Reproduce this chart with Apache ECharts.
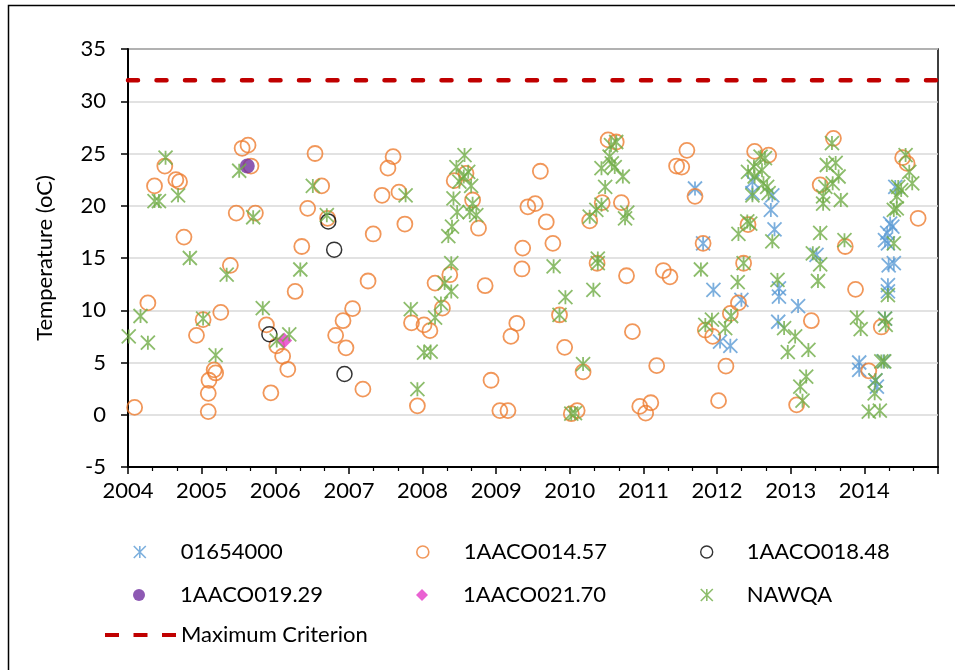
<!DOCTYPE html>
<html><head><meta charset="utf-8">
<script src="https://cdn.jsdelivr.net/npm/echarts@6/dist/echarts.min.js"></script>
<style>html,body{margin:0;padding:0;background:#fff}#c{width:955px;height:670px}</style>
</head><body><div id="c"></div><script>
// ---- data (decimal year, temperature °C) ----
const yTicks = [-5, 0, 5, 10, 15, 20, 25, 30, 35];
const xTickYears = [2004, 2005, 2006, 2007, 2008, 2009, 2010, 2011, 2012, 2013, 2014];
const criterionValue = 32;
const criterionSpan = [2004, 2015];

const s01654000_x = [2011.70,2011.81,2011.95,2012.04,2012.18,2012.33,2012.48,2012.48,2012.73,2012.75,2012.78,2012.84,2012.84,2012.83,2013.10,2013.35,2013.93,2013.93,2014.15,2014.17,2014.26,2014.28,2014.32,2014.32,2014.33,2014.40,2014.32,2014.28,2014.31,2014.35,2014.38,2014.42];
const s01654000_y = [21.65,16.4,11.95,7.0,6.6,11.0,22.3,21.2,19.6,21.0,17.75,12.1,11.3,8.9,10.4,15.3,5.0,4.3,3.3,2.7,5.1,9.2,12.4,11.8,14.3,14.5,16.4,16.7,17.4,18.3,18.0,21.8];

const s1457_x = [2004.09,2004.27,2004.36,2004.50,2004.65,2004.70,2004.76,2004.93,2005.02,2005.09,2005.09,2005.10,2005.17,2005.19,2005.26,2005.39,2005.47,2005.55,2005.63,2005.67,2005.73,2005.88,2005.94,2006.02,2006.10,2006.17,2006.27,2006.36,2006.44,2006.54,2006.63,2006.71,2006.82,2006.92,2006.96,2007.05,2007.19,2007.26,2007.33,2007.45,2007.53,2007.60,2007.68,2007.76,2007.85,2007.93,2008.02,2008.10,2008.17,2008.27,2008.37,2008.43,2008.59,2008.68,2008.76,2008.85,2008.93,2009.05,2009.16,2009.20,2009.28,2009.35,2009.36,2009.43,2009.53,2009.60,2009.68,2009.77,2009.86,2009.93,2010.02,2010.10,2010.18,2010.27,2010.37,2010.44,2010.52,2010.63,2010.70,2010.77,2010.85,2010.95,2011.03,2011.10,2011.18,2011.27,2011.36,2011.45,2011.52,2011.59,2011.70,2011.81,2011.84,2011.94,2012.02,2012.12,2012.18,2012.29,2012.36,2012.42,2012.51,2012.70,2013.08,2013.28,2013.40,2013.58,2013.74,2013.88,2014.06,2014.23,2014.52,2014.58,2014.73];
const s1457_y = [0.7,10.7,21.9,23.8,22.5,22.3,17.0,7.6,9.1,0.3,2.05,3.3,4.3,4.0,9.8,14.3,19.3,25.5,25.8,23.8,19.3,8.6,2.1,6.6,5.6,4.35,11.8,16.1,19.75,25.0,21.9,18.8,7.6,9.0,6.4,10.15,2.45,12.8,17.3,21.0,23.6,24.7,21.3,18.25,8.8,0.85,8.6,8.05,12.6,10.2,13.4,22.4,23.1,20.55,17.85,12.35,3.3,0.4,0.4,7.5,8.75,13.95,15.95,19.9,20.2,23.3,18.45,16.4,9.55,6.45,0.1,0.4,4.1,18.55,14.5,20.3,26.3,26.1,20.3,13.3,7.95,0.8,0.15,1.15,4.7,13.8,13.2,23.8,23.7,25.3,20.9,16.4,8.1,7.5,1.35,4.65,9.7,10.7,14.5,18.2,25.2,24.85,0.95,9.0,22.0,26.45,16.1,12.0,4.2,8.4,24.6,24.05,18.8];

const s1848_x = [2005.92, 2006.72, 2006.80, 2006.94];
const s1848_y = [7.7, 18.5, 15.8, 3.9];

const s1929_x = [2005.62];
const s1929_y = [23.8];

const s2170_x = [2006.12];
const s2170_y = [7.1];

const nawqa_x = [2004.01,2004.17,2004.27,2004.36,2004.42,2004.51,2004.68,2004.84,2005.02,2005.19,2005.34,2005.51,2005.70,2005.83,2006.02,2006.19,2006.34,2006.51,2006.70,2007.77,2007.84,2007.93,2008.02,2008.11,2008.17,2008.25,2008.30,2008.39,2008.39,2008.35,2008.40,2008.47,2008.42,2008.46,2008.50,2008.57,2008.56,2008.62,2008.66,2008.68,2008.64,2008.73,2009.78,2009.86,2009.94,2010.02,2010.07,2010.18,2010.32,2010.38,2010.38,2010.27,2010.36,2010.43,2010.48,2010.43,2010.54,2010.57,2010.56,2010.63,2010.61,2010.72,2010.78,2010.75,2011.78,2011.84,2011.93,2012.11,2012.19,2012.28,2012.36,2012.29,2012.41,2012.45,2012.42,2012.50,2012.51,2012.48,2012.59,2012.65,2012.61,2012.63,2012.68,2012.70,2012.75,2012.82,2012.91,2012.96,2013.06,2013.24,2013.13,2013.21,2013.16,2013.30,2013.40,2013.37,2013.40,2013.44,2013.44,2013.47,2013.49,2013.61,2013.56,2013.57,2013.65,2013.68,2013.73,2013.90,2013.95,2014.06,2014.21,2014.14,2014.15,2014.23,2014.27,2014.29,2014.28,2014.32,2014.40,2014.40,2014.44,2014.50,2014.56,2014.61,2014.65,2014.44,2014.46];
const nawqa_y = [7.5,9.45,6.9,20.45,20.45,24.6,21.0,15.0,9.2,5.7,13.4,23.35,18.9,10.2,7.1,7.7,13.9,21.9,19.1,21.0,10.1,2.45,5.95,6.05,9.3,10.65,12.6,11.8,14.5,17.1,18.0,19.4,20.7,23.7,22.3,24.85,22.8,23.25,21.9,20.2,19.4,19.1,14.2,9.55,11.25,0.1,0.15,4.85,11.95,14.95,14.5,18.95,19.6,20.1,21.8,23.6,24.7,24.05,25.8,26.1,23.7,22.8,19.35,18.8,13.9,8.6,9.1,8.3,9.45,12.7,14.5,17.3,18.5,18.3,23.25,23.75,22.8,21.0,24.7,24.55,23.4,22.15,21.8,21.2,16.6,12.9,8.3,6.0,7.5,6.2,2.7,3.65,1.35,15.45,14.4,12.8,17.4,20.2,20.9,21.8,23.9,24.1,26.0,22.15,22.8,20.55,16.7,9.3,8.2,0.3,0.4,2.05,3.3,5.1,5.1,8.6,9.2,11.45,16.4,19.6,19.75,21.5,24.85,23.25,22.15,20.9,21.8];

// ---- build ----
const zip = (xs, ys) => xs.map((x, i) => [x, ys[i]]);
const FONT = 'Lato';
const FS = 22;
const STAR = 'path://M5,0L5,10M0,0L10,10M10,0L0,10';
const DASHES = 'path://M0,0H14V4H0Z M28.5,0H42.5V4H28.5Z M57,0H71V4H57Z';
const C = {blue:'#5b9bd5', orange:'#ed7d31', black:'#000000', purple:'#7030a0', magenta:'#e43bc7', green:'#70ad47', red:'#c00000'};

const series = [
  {name:'01654000', type:'scatter', data: zip(s01654000_x, s01654000_y), symbol: STAR, symbolSize: 14,
   itemStyle:{color:'rgba(0,0,0,0)', borderColor:C.blue, borderWidth:1.8}},
  {name:'1AACO014.57', type:'scatter', data: zip(s1457_x, s1457_y), symbol:'circle', symbolSize: 15,
   itemStyle:{color:'rgba(0,0,0,0)', borderColor:C.orange, borderWidth:1.8}},
  {name:'1AACO018.48', type:'scatter', data: zip(s1848_x, s1848_y), symbol:'circle', symbolSize: 15,
   itemStyle:{color:'rgba(0,0,0,0)', borderColor:C.black, borderWidth:1.5}},
  {name:'1AACO019.29', type:'scatter', data: zip(s1929_x, s1929_y), symbol:'circle', symbolSize: 15,
   itemStyle:{color:C.purple}},
  {name:'1AACO021.70', type:'scatter', data: zip(s2170_x, s2170_y), symbol:'diamond', symbolSize: 16,
   itemStyle:{color:C.magenta}},
  {name:'NAWQA', type:'scatter', data: zip(nawqa_x, nawqa_y), symbol: STAR, symbolSize: 14,
   itemStyle:{color:'rgba(0,0,0,0)', borderColor:C.green, borderWidth:1.8}},
  {name:'Maximum Criterion', type:'line', data: criterionSpan.map(x => [x, criterionValue]), symbol:'none',
   itemStyle:{color:C.red},
   lineStyle:{color:C.red, width:4.5, type:[10,18.5], cap:'round'}, silent:true}
];

function mkLegend(name, left, top, icon, style, pad, w, h) {
  return {data:[name], left, top, orient:'horizontal', itemGap:0, itemWidth: w || 12, itemHeight: h || 12,
    icon, itemStyle: style,
    textStyle:{fontFamily:FONT, fontSize:FS, color:'#000', padding:[0,0,0,pad]}, selectedMode:false};
}
const rowY = [536, 579, 619];
const legends = [
  mkLegend('01654000', 128, rowY[0], STAR, {color:'rgba(0,0,0,0)', borderColor:C.blue, borderWidth:1.6}, 30),
  mkLegend('1AACO014.57', 411, rowY[0], 'circle', {color:'rgba(0,0,0,0)', borderColor:C.orange, borderWidth:1.6}, 30),
  mkLegend('1AACO018.48', 695, rowY[0], 'circle', {color:'rgba(0,0,0,0)', borderColor:C.black, borderWidth:1.4}, 29),
  mkLegend('1AACO019.29', 128, rowY[1], 'circle', {color:C.purple}, 30),
  mkLegend('1AACO021.70', 411, rowY[1], 'diamond', {color:C.magenta}, 30),
  mkLegend('NAWQA', 695, rowY[1], STAR, {color:'rgba(0,0,0,0)', borderColor:C.green, borderWidth:1.6}, 29),
  mkLegend('Maximum Criterion', 100, rowY[2], DASHES, {color:C.red, borderWidth:0}, 0, 71, 4.5)
];

const chart = echarts.init(document.getElementById('c'), null, {renderer:'canvas'});
chart.setOption({
  animation:false,
  backgroundColor:'#fff',
  textStyle:{fontFamily:FONT},
  grid:{left:128, right:17, top:49, bottom:203, show:true, borderColor:'#000', borderWidth:1.5, backgroundColor:'transparent'},
  xAxis:{type:'value', min:criterionSpan[0], max:criterionSpan[1], interval:1,
    axisLine:{show:true, onZero:false, lineStyle:{color:'#000', width:2}},
    axisTick:{show:true, length:7, lineStyle:{color:'#000', width:1.5}},
    minorTick:{show:true, splitNumber:3, length:4, lineStyle:{color:'#000', width:1.2}},
    splitLine:{show:false},
    axisLabel:{fontFamily:FONT, fontSize:FS, color:'#000', margin:13,
      formatter: v => xTickYears.includes(Math.round(v)) ? String(Math.round(v)) : ''}},
  yAxis:{type:'value', min:yTicks[0], max:yTicks[yTicks.length-1], interval:5,
    name:'Temperature (oC)', nameLocation:'middle', nameGap:72,
    nameTextStyle:{fontFamily:FONT, fontSize:FS, color:'#000'},
    axisLine:{show:true, onZero:false, lineStyle:{color:'#000', width:2}},
    axisTick:{show:true, length:7, lineStyle:{color:'#000', width:1.5}},
    splitLine:{show:true, lineStyle:{color:'#d9d9d9', width:1.5}},
    axisLabel:{fontFamily:FONT, fontSize:FS, color:'#000', margin:22}},
  legend: legends,
  graphic:[{type:'rect', left:6, top:3, shape:{x:0, y:0, width:1000, height:1000}, style:{fill:'none', stroke:'#000', lineWidth:1.5}, silent:true, z:-1}],
  series
});
</script></body></html>
